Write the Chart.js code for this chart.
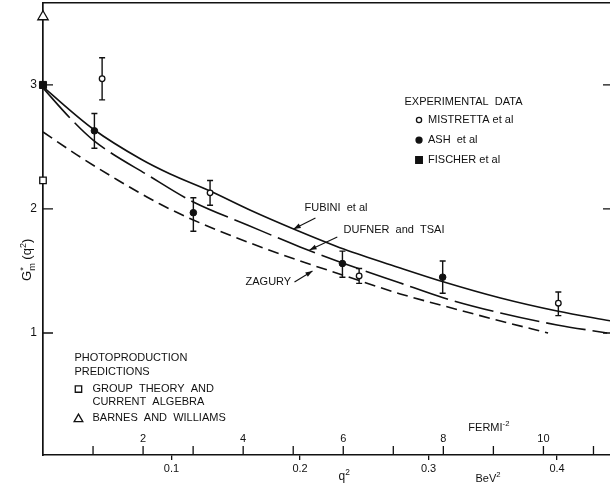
<!DOCTYPE html>
<html>
<head>
<meta charset="utf-8">
<script src="https://cdn.jsdelivr.net/npm/chart.js@4.4.0/dist/chart.umd.min.js"></script>
<style>
  html, body { margin: 0; padding: 0; background: #fff; }
  #wrap { width: 610px; height: 487px; position: relative; }
</style>
</head>
<body>
<div id="wrap"><canvas id="chart"></canvas></div>
<script>
// q^2 in BeV^2, G*m(q^2)
const fubiniQ2 = [0.000, 0.039, 0.076, 0.099, 0.130, 0.161, 0.195, 0.234, 0.278, 0.312, 0.356, 0.400, 0.442];
const fubiniG  = [2.984, 2.645, 2.403, 2.282, 2.145, 1.992, 1.839, 1.677, 1.524, 1.411, 1.282, 1.177, 1.097];

const dufnerQ2 = [0.000, 0.021, 0.039, 0.084, 0.117, 0.159, 0.200, 0.233, 0.278, 0.312, 0.356, 0.400, 0.439];
const dufnerG  = [2.976, 2.734, 2.556, 2.258, 2.056, 1.871, 1.694, 1.565, 1.403, 1.282, 1.161, 1.065, 1.000];

const zaguryQ2 = [0.000, 0.029, 0.058, 0.091, 0.117, 0.161, 0.200, 0.233, 0.278, 0.312, 0.356, 0.393];
const zaguryG  = [2.621, 2.419, 2.234, 2.040, 1.911, 1.726, 1.581, 1.468, 1.315, 1.218, 1.097, 1.000];

const mistrettaQ2 = [0.046, 0.130, 0.246, 0.401];
const mistrettaG  = [3.05, 2.13, 1.46, 1.24];
const mistrettaLo = [2.88, 2.03, 1.40, 1.14];
const mistrettaHi = [3.22, 2.23, 1.52, 1.33];

const ashQ2 = [0.040, 0.117, 0.233, 0.311];
const ashG  = [2.63, 1.97, 1.56, 1.45];
const ashLo = [2.49, 1.82, 1.45, 1.32];
const ashHi = [2.77, 2.09, 1.66, 1.58];

const fischerQ2 = [0];
const fischerG  = [3.0];
const groupTheoryQ2 = [0];
const groupTheoryG  = [2.23];
const barnesQ2 = [0];
const barnesG  = [3.55];

// axes
const qTicks = [0.1, 0.2, 0.3, 0.4];
const gTicks = [1, 2, 3];
const fermiTicks = [1, 2, 3, 4, 5, 6, 7, 8, 9, 10, 11];
const fermiLabels = [2, 4, 6, 8, 10];
const FM2_TO_BEV2 = 0.03894;
const Q2_MAX = 0.4412;

const FONT = '"Liberation Sans", Arial, sans-serif';
const INK = '#111';

const pts = (xs, ys) => xs.map((x, i) => ({ x: x, y: ys[i] }));

// text with super/subscripts, runs: [text, kind, noAdvance]
function runs(ctx, list, x, y, size) {
    let cx = x;
    list.forEach(r => {
        const t = r[0], k = r[1];
        const s = k ? size * 0.7 : size;
        ctx.font = s + 'px ' + FONT;
        const dy = k === '^' ? -size * 0.42 : (k === '_' ? size * 0.3 : 0);
        ctx.fillText(t, cx, y + dy);
        if (!r[2]) cx += ctx.measureText(t).width;
    });
    return cx - x;
}
function runsWidth(ctx, list, size) {
    let w = 0;
    list.forEach(r => {
        ctx.font = (r[1] ? size * 0.7 : size) + 'px ' + FONT;
        if (!r[2]) w += ctx.measureText(r[0]).width;
    });
    return w;
}

function marker(ctx, style, x, y, r, filled) {
    ctx.beginPath();
    if (style === 'circle') {
        ctx.arc(x, y, r, 0, Math.PI * 2);
    } else if (style === 'rect') {
        ctx.rect(x - r, y - r, 2 * r, 2 * r);
    } else {
        ctx.moveTo(x, y - r);
        ctx.lineTo(x + r * 0.87, y + r * 0.5);
        ctx.lineTo(x - r * 0.87, y + r * 0.5);
        ctx.closePath();
    }
    ctx.fillStyle = filled ? INK : '#fff';
    ctx.fill();
    ctx.lineWidth = 1.3;
    ctx.strokeStyle = INK;
    ctx.stroke();
}

function arrow(ctx, x1, y1, x2, y2) {
    ctx.beginPath();
    ctx.moveTo(x1, y1);
    ctx.lineTo(x2, y2);
    ctx.lineWidth = 1.1;
    ctx.stroke();
    const a = Math.atan2(y2 - y1, x2 - x1);
    ctx.beginPath();
    ctx.moveTo(x2, y2);
    ctx.lineTo(x2 - 7 * Math.cos(a) + 2.5 * Math.sin(a), y2 - 7 * Math.sin(a) - 2.5 * Math.cos(a));
    ctx.lineTo(x2 - 7 * Math.cos(a) - 2.5 * Math.sin(a), y2 - 7 * Math.sin(a) + 2.5 * Math.cos(a));
    ctx.closePath();
    ctx.fill();
}

const errorBars = {
    id: 'errorBars',
    beforeDatasetsDraw(chart) {
        const ctx = chart.ctx, xs = chart.scales.x, ys = chart.scales.y;
        ctx.save();
        ctx.strokeStyle = INK;
        ctx.lineWidth = 1.4;
        chart.data.datasets.forEach(ds => {
            if (!ds.errLo) return;
            ds.data.forEach((p, i) => {
                const px = xs.getPixelForValue(p.x);
                const lo = ys.getPixelForValue(ds.errLo[i]);
                const hi = ys.getPixelForValue(ds.errHi[i]);
                ctx.beginPath();
                ctx.moveTo(px, lo); ctx.lineTo(px, hi);
                ctx.moveTo(px - 3, lo); ctx.lineTo(px + 3, lo);
                ctx.moveTo(px - 3, hi); ctx.lineTo(px + 3, hi);
                ctx.stroke();
            });
        });
        ctx.restore();
    }
};

const decorations = {
    id: 'decorations',
    afterDraw(chart) {
        const ctx = chart.ctx, xs = chart.scales.x, ys = chart.scales.y, area = chart.chartArea;
        const X = q => xs.getPixelForValue(q);
        const Y = g => ys.getPixelForValue(g);
        ctx.save();
        ctx.strokeStyle = INK;
        ctx.fillStyle = INK;
        ctx.lineWidth = 1.3;

        // inward ticks of the G axis, both sides
        gTicks.forEach(g => {
            ctx.beginPath();
            ctx.moveTo(area.left, Y(g)); ctx.lineTo(area.left + 10, Y(g));
            ctx.moveTo(area.right - 7, Y(g)); ctx.lineTo(area.right, Y(g));
            ctx.stroke();
        });

        // fermi^-2 scale on the bottom axis
        fermiTicks.forEach(f => {
            const px = X(f * FM2_TO_BEV2);
            ctx.beginPath();
            ctx.moveTo(px, area.bottom); ctx.lineTo(px, area.bottom - 9);
            ctx.stroke();
        });
        ctx.textAlign = 'center';
        ctx.textBaseline = 'middle';
        ctx.font = '11px ' + FONT;
        fermiLabels.forEach(f => ctx.fillText(String(f), X(f * FM2_TO_BEV2), area.bottom - 16));

        ctx.textAlign = 'left';
        ctx.textBaseline = 'alphabetic';
        runs(ctx, [['FERMI', ''], ['-2', '^']], X(8.5 * FM2_TO_BEV2), area.bottom - 24, 11);
        runs(ctx, [['q', ''], ['2', '^']], X(0.2299), area.bottom + 25, 12);
        runs(ctx, [['BeV', ''], ['2', '^']], X(0.3365), area.bottom + 27, 11);

        // y title
        const title = [['G', ''], ['*', '^', true], ['m', '_'], [' (q', ''], ['2', '^'], [')', '']];
        ctx.save();
        ctx.translate(area.left - 12, Y(1.59));
        ctx.rotate(-Math.PI / 2);
        const tw = runsWidth(ctx, title, 13);
        runs(ctx, title, -tw / 2, 0, 13);
        ctx.restore();

        // experimental data key
        ctx.font = '11px ' + FONT;
        ctx.textBaseline = 'middle';
        ctx.fillText('EXPERIMENTAL  DATA', X(0.2813), Y(2.863));
        marker(ctx, 'circle', X(0.2926), Y(2.718), 2.6, false);
        marker(ctx, 'circle', X(0.2926), Y(2.556), 3, true);
        marker(ctx, 'rect', X(0.2926), Y(2.395), 3.3, true);
        ctx.fillStyle = INK;
        ctx.font = '11px ' + FONT;
        ctx.fillText('MISTRETTA et al', X(0.2996), Y(2.718));
        ctx.fillText('ASH  et al', X(0.2996), Y(2.556));
        ctx.fillText('FISCHER et al', X(0.2996), Y(2.395));

        // photoproduction key
        ctx.fillText('PHOTOPRODUCTION', X(0.0245), Y(0.798));
        ctx.fillText('PREDICTIONS', X(0.0245), Y(0.685));
        marker(ctx, 'rect', X(0.0276), Y(0.548), 3.2, false);
        marker(ctx, 'triangle', X(0.0276), Y(0.305), 5, false);
        ctx.fillStyle = INK;
        ctx.font = '11px ' + FONT;
        ctx.fillText('GROUP  THEORY  AND', X(0.0385), Y(0.548));
        ctx.fillText('CURRENT  ALGEBRA', X(0.0385), Y(0.444));
        ctx.fillText('BARNES  AND  WILLIAMS', X(0.0385), Y(0.315));

        // curve labels
        ctx.fillText('FUBINI  et al', X(0.2035), Y(2.008));
        ctx.fillText('DUFNER  and  TSAI', X(0.2339), Y(1.831));
        ctx.fillText('ZAGURY', X(0.1576), Y(1.411));
        arrow(ctx, X(0.212), Y(1.927), X(0.195), Y(1.839));
        arrow(ctx, X(0.229), Y(1.774), X(0.2074), Y(1.669));
        arrow(ctx, X(0.1957), Y(1.411), X(0.2097), Y(1.50));

        ctx.restore();
    }
};

Chart.defaults.font.family = FONT;
Chart.defaults.color = INK;

new Chart(document.getElementById('chart'), {
    type: 'scatter',
    data: {
        datasets: [
            {
                label: 'MISTRETTA et al', data: pts(mistrettaQ2, mistrettaG),
                errLo: mistrettaLo, errHi: mistrettaHi,
                pointStyle: 'circle', pointRadius: 2.8, backgroundColor: '#fff',
                borderColor: INK, borderWidth: 1.3, clip: false
            },
            {
                label: 'ASH et al', data: pts(ashQ2, ashG),
                errLo: ashLo, errHi: ashHi,
                pointStyle: 'circle', pointRadius: 3.3, backgroundColor: INK,
                borderColor: INK, borderWidth: 1, clip: false
            },
            {
                label: 'FISCHER et al', data: pts(fischerQ2, fischerG),
                pointStyle: 'rect', pointRadius: 5, backgroundColor: INK,
                borderColor: INK, borderWidth: 1, clip: false
            },
            {
                label: 'GROUP THEORY AND CURRENT ALGEBRA', data: pts(groupTheoryQ2, groupTheoryG),
                pointStyle: 'rect', pointRadius: 4.6, backgroundColor: '#fff',
                borderColor: INK, borderWidth: 1.3, clip: false
            },
            {
                label: 'BARNES AND WILLIAMS', data: pts(barnesQ2, barnesG),
                pointStyle: 'triangle', pointRadius: 6, backgroundColor: '#fff',
                borderColor: INK, borderWidth: 1.3, clip: false
            },
            {
                label: 'FUBINI et al', data: pts(fubiniQ2, fubiniG), showLine: true,
                pointRadius: 0, borderColor: INK, borderWidth: 1.6,
                cubicInterpolationMode: 'monotone'
            },
            {
                label: 'DUFNER and TSAI', data: pts(dufnerQ2, dufnerG), showLine: true,
                pointRadius: 0, borderColor: INK, borderWidth: 1.6, borderDash: [40, 7],
                cubicInterpolationMode: 'monotone'
            },
            {
                label: 'ZAGURY', data: pts(zaguryQ2, zaguryG), showLine: true,
                pointRadius: 0, borderColor: INK, borderWidth: 1.6, borderDash: [11, 6],
                cubicInterpolationMode: 'monotone'
            }
        ].map(d => Object.assign({ xAxisID: 'x', yAxisID: 'y' }, d))
    },
    options: {
        responsive: true,
        maintainAspectRatio: false,
        animation: false,
        events: [],
        layout: { autoPadding: false, padding: { top: 3, left: 0, right: 0, bottom: 0 } },
        plugins: { legend: { display: false }, tooltip: { enabled: false } },
        scales: {
            x: {
                type: 'linear', position: 'bottom', min: 0, max: Q2_MAX,
                afterBuildTicks: s => { s.ticks = qTicks.map(v => ({ value: v })); },
                afterFit: s => { s.height = 32; s.paddingLeft = 0; s.paddingRight = 0; },
                ticks: { callback: v => v.toFixed(1), font: { size: 11 }, padding: 2, maxRotation: 0, autoSkip: false },
                grid: { display: true, drawOnChartArea: false, drawTicks: true, tickLength: 5, color: INK, lineWidth: 1.3 },
                border: { display: true, color: INK, width: 1.6 }
            },
            xTop: {
                type: 'linear', position: 'top', axis: 'x', min: 0, max: Q2_MAX,
                afterFit: s => { s.height = 0; s.paddingLeft = 0; s.paddingRight = 0; },
                ticks: { display: false },
                grid: { display: false, drawTicks: false },
                border: { display: true, color: INK, width: 1.5 }
            },
            y: {
                type: 'linear', position: 'left', min: 0.016, max: 3.661,
                afterBuildTicks: s => { s.ticks = gTicks.map(v => ({ value: v })); },
                afterFit: s => { s.width = 43; s.paddingTop = 0; s.paddingBottom = 0; },
                ticks: { callback: v => String(v), font: { size: 12 }, padding: 6 },
                grid: { display: false, drawTicks: false },
                border: { display: true, color: INK, width: 1.7 }
            }
        }
    },
    plugins: [errorBars, decorations]
});
</script>
</body>
</html>
